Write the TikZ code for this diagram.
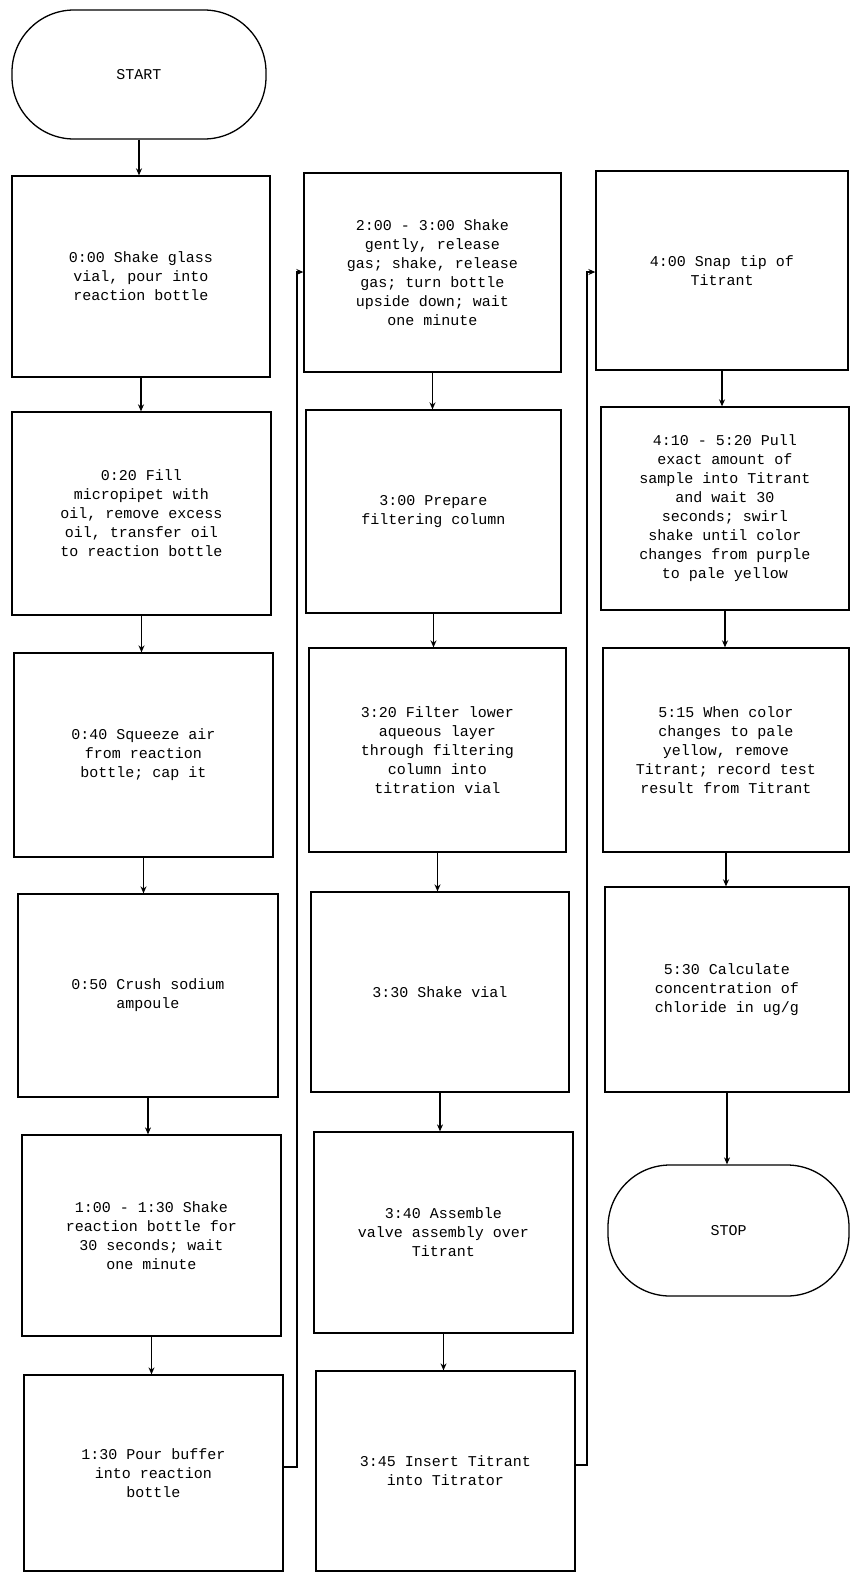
\documentclass[tikz,border=0pt]{standalone}
\usepackage{fontspec}
\setmainfont{Liberation Mono}
\usetikzlibrary{arrows.meta}
\tikzset{
  stepbox/.style={draw=black, line width=1.3pt, align=center, inner sep=2pt,
    font=\fontsize{15}{19}\selectfont},
  term/.style={draw=black, line width=1.3pt, rounded corners=62pt, align=center,
    font=\fontsize{15}{19}\selectfont},
  arr/.style={-{Stealth[length=7pt,width=6pt]}, line width=1.3pt},
}
\begin{document}
\begin{tikzpicture}[x=1pt,y=-1pt]
\useasboundingbox (0,0) rectangle (850,1575);
% column 1
\node[term, minimum width=254pt, minimum height=129pt] (start) at (139,74.5) {START};
\node[stepbox, minimum width=258pt, minimum height=201pt] (b1) at (141,276.5) {0:00 Shake glass\\vial, pour into\\reaction bottle};
\node[stepbox, minimum width=259pt, minimum height=203pt] (b2) at (141.5,513.5) {0:20 Fill\\micropipet with\\oil, remove excess\\oil, transfer oil\\to reaction bottle};
\node[stepbox, minimum width=259pt, minimum height=204pt] (b3) at (143.5,755) {0:40 Squeeze air\\from reaction\\bottle; cap it};
\node[stepbox, minimum width=260pt, minimum height=203pt] (b4) at (148,995.5) {0:50 Crush sodium\\ampoule};
\node[stepbox, minimum width=259pt, minimum height=201pt] (b5) at (151.5,1235.5) {1:00 - 1:30 Shake\\reaction bottle for\\30 seconds; wait\\one minute};
\node[stepbox, minimum width=259pt, minimum height=196pt] (b6) at (153.5,1473) {1:30 Pour buffer\\into reaction\\bottle};
% column 2
\node[stepbox, minimum width=257pt, minimum height=199pt] (c1) at (432.5,272.5) {2:00 - 3:00 Shake\\gently, release\\gas; shake, release\\gas; turn bottle\\upside down; wait\\one minute};
\node[stepbox, minimum width=255pt, minimum height=203pt] (c2) at (433.5,511.5) {3:00 Prepare\\filtering column};
\node[stepbox, minimum width=257pt, minimum height=204pt] (c3) at (437.5,750) {3:20 Filter lower\\aqueous layer\\through filtering\\column into\\titration vial};
\node[stepbox, minimum width=258pt, minimum height=200pt] (c4) at (440,992) {3:30 Shake vial};
\node[stepbox, minimum width=259pt, minimum height=201pt] (c5) at (443.5,1232.5) {3:40 Assemble\\valve assembly over\\Titrant};
\node[stepbox, minimum width=259pt, minimum height=200pt] (c6) at (445.5,1471) {3:45 Insert Titrant\\into Titrator};
% column 3
\node[stepbox, minimum width=252pt, minimum height=199pt] (d1) at (722,270.5) {4:00 Snap tip of\\Titrant};
\node[stepbox, minimum width=248pt, minimum height=203pt] (d2) at (725,508.5) {4:10 - 5:20 Pull\\exact amount of\\sample into Titrant\\and wait 30\\seconds; swirl\\shake until color\\changes from purple\\to pale yellow};
\node[stepbox, minimum width=246pt, minimum height=204pt] (d3) at (726,750) {5:15 When color\\changes to pale\\yellow, remove\\Titrant; record test\\result from Titrant};
\node[stepbox, minimum width=244pt, minimum height=205pt] (d4) at (727,989.5) {5:30 Calculate\\concentration of\\chloride in ug/g};
\node[term, minimum width=241pt, minimum height=131pt] (stop) at (728.5,1230.5) {STOP};
% connectors column 1
\draw[arr] (start.south) -- (start.south |- b1.north);
\draw[arr] (b1.south) -- (b1.south |- b2.north);
\draw[arr] (b2.south) -- (b2.south |- b3.north);
\draw[arr] (b3.south) -- (b3.south |- b4.north);
\draw[arr] (b4.south) -- (b4.south |- b5.north);
\draw[arr] (b5.south) -- (b5.south |- b6.north);
% column 1 -> column 2
\coordinate (j1a) at (297,1467);
\coordinate (j1b) at (297,272);
\draw[arr] (b6.east |- j1a) -- (j1a) -- (j1b) -- (j1b -| c1.west);
% connectors column 2
\draw[arr] (c1.south) -- (c1.south |- c2.north);
\draw[arr] (c2.south) -- (c2.south |- c3.north);
\draw[arr] (c3.south) -- (c3.south |- c4.north);
\draw[arr] (c4.south) -- (c4.south |- c5.north);
\draw[arr] (c5.south) -- (c5.south |- c6.north);
% column 2 -> column 3
\coordinate (j2a) at (587,1465);
\coordinate (j2b) at (587,272);
\draw[arr] (c6.east |- j2a) -- (j2a) -- (j2b) -- (j2b -| d1.west);
% connectors column 3
\draw[arr] (d1.south) -- (d1.south |- d2.north);
\draw[arr] (d2.south) -- (d2.south |- d3.north);
\draw[arr] (d3.south) -- (d3.south |- d4.north);
\draw[arr] (d4.south) -- (d4.south |- stop.north);
\end{tikzpicture}
\end{document}
